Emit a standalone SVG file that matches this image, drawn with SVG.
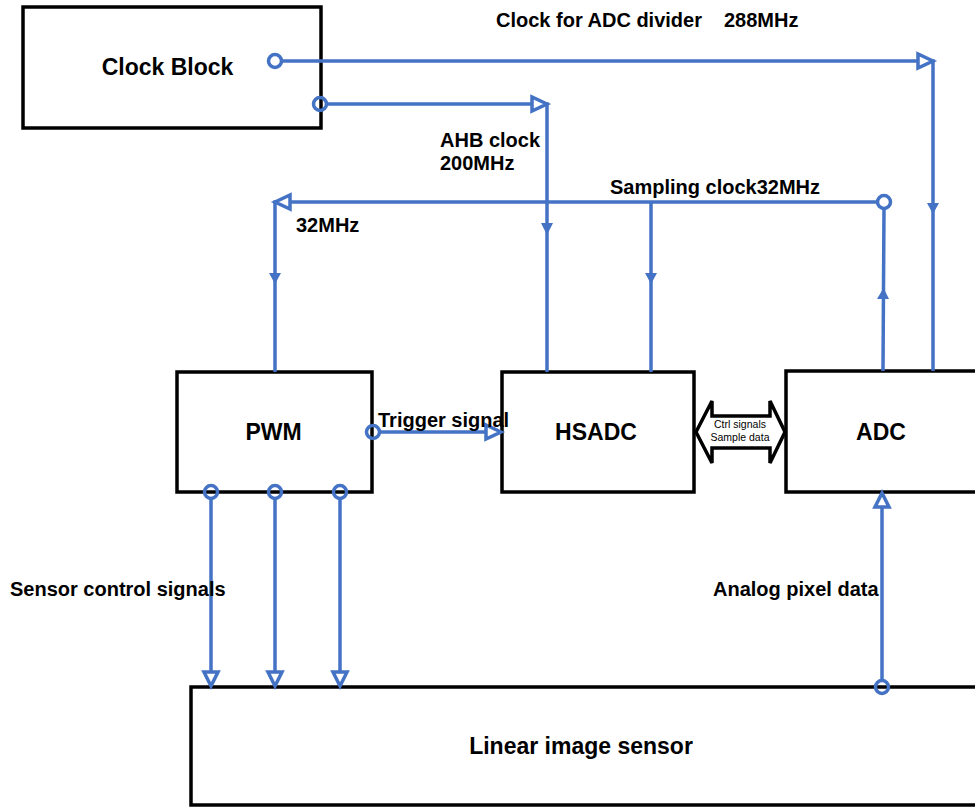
<svg xmlns="http://www.w3.org/2000/svg" width="975" height="807" viewBox="0 0 975 807">
<style>
.box{fill:#fff;stroke:#000;stroke-width:3.5}
.lbl{font-family:"Liberation Sans",Arial,sans-serif;font-weight:bold;font-size:23px;fill:#000;text-anchor:middle}
.t{font-family:"Liberation Sans",Arial,sans-serif;font-weight:bold;font-size:20px;fill:#000}
.s{font-family:"Liberation Sans",Arial,sans-serif;font-size:10.5px;fill:#000;text-anchor:middle}
.w{fill:none;stroke:#4472C4;stroke-width:3.5}
.port{fill:none;stroke:#4472C4;stroke-width:3.5}
.open{fill:#fff;stroke:#4472C4;stroke-width:3.5;stroke-linejoin:miter}
.fill{fill:#4472C4;stroke:none}
</style>
<rect width="975" height="807" fill="#fff"/>
<g id="clock-block"><rect class="box" x="23" y="7" width="298" height="121"/><text class="lbl" x="167.5" y="75">Clock Block</text></g>
<g id="pwm"><rect class="box" x="177" y="372" width="195" height="120"/><text class="lbl" x="273.5" y="440">PWM</text></g>
<g id="hsadc"><rect class="box" x="502" y="372" width="192" height="120"/><text class="lbl" x="596" y="440">HSADC</text></g>
<g id="adc"><rect class="box" x="786" y="371" width="210" height="121"/><text class="lbl" x="881" y="440">ADC</text></g>
<g id="sensor"><rect class="box" x="191" y="687" width="800" height="118"/><text class="lbl" x="581" y="754">Linear image sensor</text></g>
<g id="bus"><polygon points="696,432 712,401 712,416 770,416 770,401 785,432 770,463 770,448 712,448 712,463" fill="#fff" stroke="#000" stroke-width="3.5" stroke-linejoin="miter"/><text class="s" x="740" y="428">Ctrl signals</text><text class="s" x="740" y="441">Sample data</text></g>
<g id="connectors">
<circle class="port" cx="275" cy="61" r="6.5"/>
<polyline class="w" points="281.5,61 933,61 933,371"/>
<polygon class="open" points="933,61 918,54 918,68"/>
<polygon class="fill" points="927,203 939,203 933,214"/>
<circle class="port" cx="320" cy="104" r="6.5"/>
<polyline class="w" points="326.5,104 547,104 547,372"/>
<polygon class="open" points="547,104 532,97 532,111"/>
<polygon class="fill" points="541,223 553,223 547,235"/>
<circle class="port" cx="884" cy="202" r="6.5"/>
<polyline class="w" points="877.5,202 275,202 275,372"/>
<polygon class="open" points="275,202 290,195 290,209"/>
<polygon class="fill" points="269,273 281,273 275,284"/>
<line class="w" x1="651" y1="202" x2="651" y2="372"/>
<polygon class="fill" points="645,273 657,273 651,284"/>
<line class="w" x1="884" y1="208.5" x2="883" y2="371"/>
<polygon class="fill" points="877,299 889,299 883.5,288"/>
<circle class="port" cx="373" cy="432" r="6.5"/>
<line class="w" x1="379.5" y1="432" x2="500" y2="432"/>
<polygon class="open" points="501,432 486,425 486,439"/>
<circle class="port" cx="211" cy="492" r="6.5"/>
<circle class="port" cx="275" cy="492" r="6.5"/>
<circle class="port" cx="340" cy="492" r="6.5"/>
<line class="w" x1="211" y1="498.5" x2="211" y2="685"/>
<line class="w" x1="275" y1="498.5" x2="275" y2="685"/>
<line class="w" x1="340" y1="498.5" x2="340" y2="685"/>
<polygon class="open" points="211,686 204,672 218,672"/>
<polygon class="open" points="275,686 268,672 282,672"/>
<polygon class="open" points="340,686 333,672 347,672"/>
<circle class="port" cx="882" cy="687" r="6.5"/>
<line class="w" x1="882" y1="680.5" x2="882" y2="494"/>
<polygon class="open" points="882,493 875,507 889,507"/>
</g>
<g id="labels">
<text class="t" x="496" y="27">Clock for ADC divider</text>
<text class="t" x="724" y="27">288MHz</text>
<text class="t" x="440" y="147">AHB clock</text>
<text class="t" x="440" y="170">200MHz</text>
<text class="t" x="610" y="194">Sampling clock32MHz</text>
<text class="t" x="296" y="232">32MHz</text>
<text class="t" x="378" y="427">Trigger signal</text>
<text class="t" x="10" y="596">Sensor control signals</text>
<text class="t" x="713" y="596">Analog pixel data</text>
</g>
</svg>
